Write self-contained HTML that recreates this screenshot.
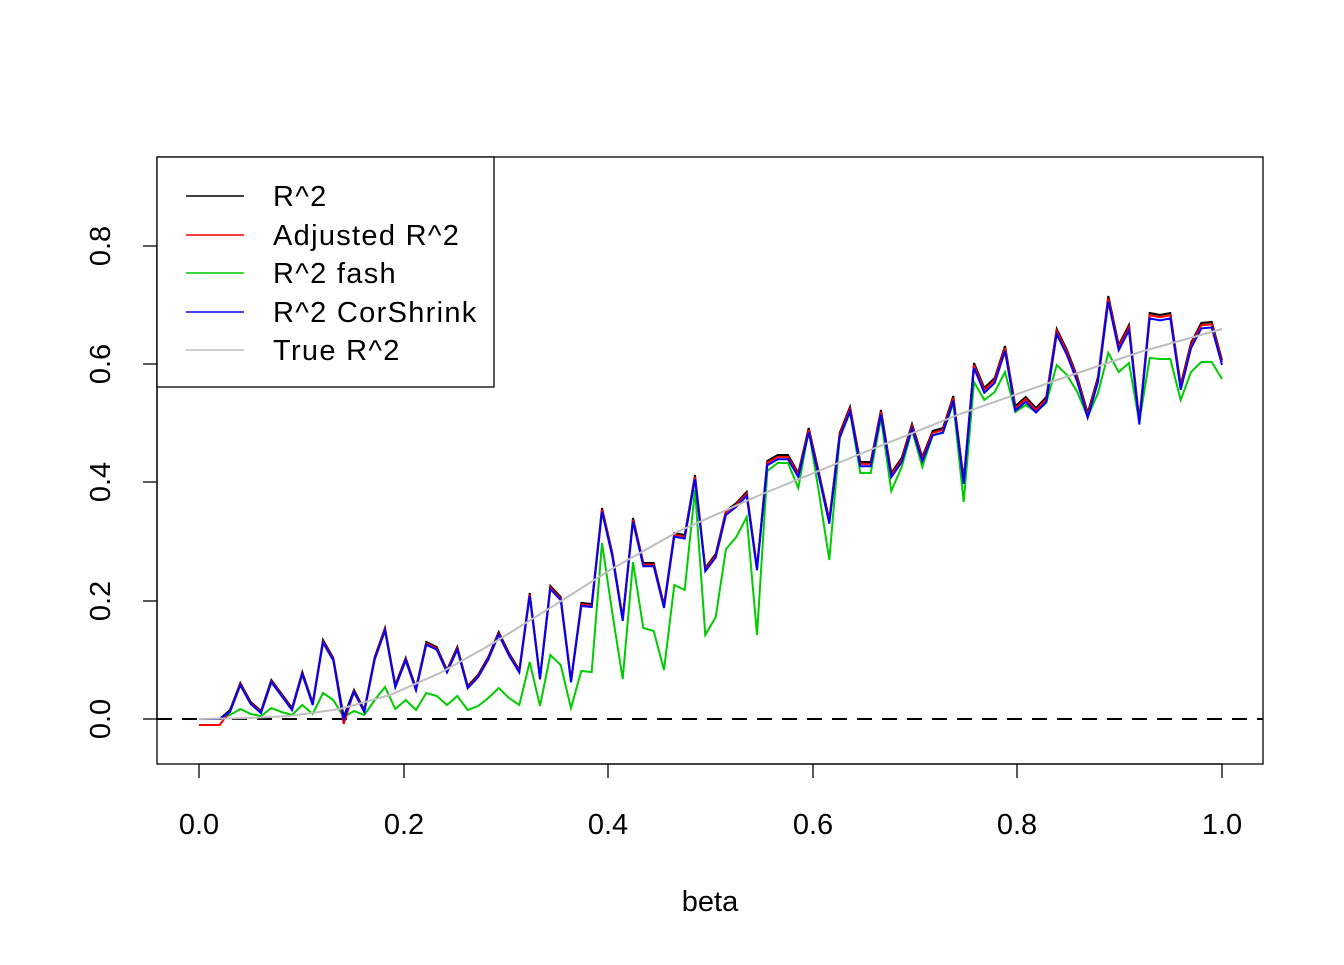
<!DOCTYPE html>
<html><head><meta charset="utf-8"><style>
html,body{margin:0;padding:0;background:#fff;}
svg text{font-family:"Liberation Sans",Arial,sans-serif;font-size:29px;fill:#000;}
svg text.lg{letter-spacing:1.3px;}
</style></head><body>
<svg id="s" width="1344" height="960" xmlns="http://www.w3.org/2000/svg">
<rect x="157" y="157" width="1106" height="607" fill="none" stroke="#000" stroke-width="1.3"/>
<line x1="157" y1="719" x2="1263" y2="719" stroke="#000" stroke-width="2" stroke-dasharray="15,10"/>
<g stroke="#000" stroke-width="1.3">
<line x1="199" y1="764" x2="1222" y2="764"/>
<line x1="199" y1="764" x2="199" y2="778"/><line x1="404" y1="764" x2="404" y2="778"/>
<line x1="608" y1="764" x2="608" y2="778"/><line x1="813" y1="764" x2="813" y2="778"/>
<line x1="1017" y1="764" x2="1017" y2="778"/><line x1="1222" y1="764" x2="1222" y2="778"/>
<line x1="157" y1="719" x2="157" y2="246"/>
<line x1="157" y1="719" x2="143" y2="719"/><line x1="157" y1="601" x2="143" y2="601"/>
<line x1="157" y1="482" x2="143" y2="482"/><line x1="157" y1="364" x2="143" y2="364"/>
<line x1="157" y1="246" x2="143" y2="246"/>
</g>
<g text-anchor="middle">
<text x="199" y="834">0.0</text><text x="404" y="834">0.2</text><text x="608" y="834">0.4</text>
<text x="813" y="834">0.6</text><text x="1017" y="834">0.8</text><text x="1222" y="834">1.0</text>
<text x="710" y="911">beta</text>
<text transform="translate(110,719) rotate(-90)">0.0</text>
<text transform="translate(110,601) rotate(-90)">0.2</text>
<text transform="translate(110,482) rotate(-90)">0.4</text>
<text transform="translate(110,364) rotate(-90)">0.6</text>
<text transform="translate(110,246) rotate(-90)">0.8</text>
</g>
<g id="series"></g>
<rect x="157" y="157" width="337" height="230" fill="#fff" stroke="#000" stroke-width="1.3"/>
<g stroke-width="1.5">
<line x1="186" y1="196" x2="244" y2="196" stroke="#000"/>
<line x1="186" y1="235" x2="244" y2="235" stroke="#ff0000"/>
<line x1="186" y1="273" x2="244" y2="273" stroke="#00cc00"/>
<line x1="186" y1="312" x2="244" y2="312" stroke="#0000ff"/>
<line x1="186" y1="350" x2="244" y2="350" stroke="#bebebe"/>
</g>
<text class="lg" x="273" y="206">R^2</text>
<text class="lg" x="273" y="245">Adjusted R^2</text>
<text class="lg" x="273" y="283">R^2 fash</text>
<text class="lg" x="273" y="322">R^2 CorShrink</text>
<text class="lg" x="273" y="360">True R^2</text>
</svg>
<script>
var B=[719,719,719,710,683,702,711,680,694,708,672,703,640,658,717,690,710,657,628,685,658,688,642,647,670,647,686,675,657,632,653,670,593,677,586,597,680,603,604,508,553,618,518,563,563,605,533,535,475,568,554,511,503,492,567,461,455,455,473,428,473,520,433,407,462,462,410,473,458,424,457,431,428,396,480,363,388,378,346,406,397,408,397,329,350,377,413,377,296,345,325,420,313,315,313,385,343,323,322,360];
var G=[719,719,719,715,709,714,716,708,712,715,705,714,693,700,717,711,715,700,687,709,700,710,693,696,705,696,710,706,698,688,698,705,662,706,655,665,708,671,672,543,613,679,562,628,631,670,585,590,490,635,617,549,537,517,635,471,463,463,488,430,493,560,438,412,473,473,418,491,467,430,467,435,433,403,502,382,400,392,372,412,405,412,403,365,375,392,417,393,353,372,363,422,358,359,359,400,372,362,362,379];
var X=function(i){return 199+i*1023/99;};
function pts(f){var a=[];for(var i=0;i<100;i++)a.push(X(i).toFixed(1)+","+f(i).toFixed(1));return a.join(" ");}
var gray=[[199,719],[250,718],[290,716],[340,709],[390,695],[440,673],[490,645],[550,608],[610,570],[677,532],[760,495],[860,454],[960,414],[1060,379],[1140,352],[1222,329]];
var s='';
s+='<polyline fill="none" stroke="#00cc00" stroke-width="2" points="'+pts(function(i){return G[i];})+'"/>';
s+='<polyline fill="none" stroke="#000" stroke-width="2" points="'+pts(function(i){return B[i];})+'"/>';
s+='<polyline fill="none" stroke="#ff0000" stroke-width="2" points="'+pts(function(i){if(i<3)return 725;if(i==14)return 724;var v=(719-B[i])/591;return B[i]+1.2+1.5*v;})+'"/>';
s+='<polyline fill="none" stroke="#0000ff" stroke-width="2" points="'+pts(function(i){if(i<3)return 719;var v=(719-B[i])/591;return B[i]+2+5*v;})+'"/>';
s+='<polyline fill="none" stroke="#bebebe" stroke-width="2" points="'+gray.map(function(p){return p.join(",");}).join(" ")+'"/>';
document.getElementById("series").innerHTML=s;
</script>
</body></html>
